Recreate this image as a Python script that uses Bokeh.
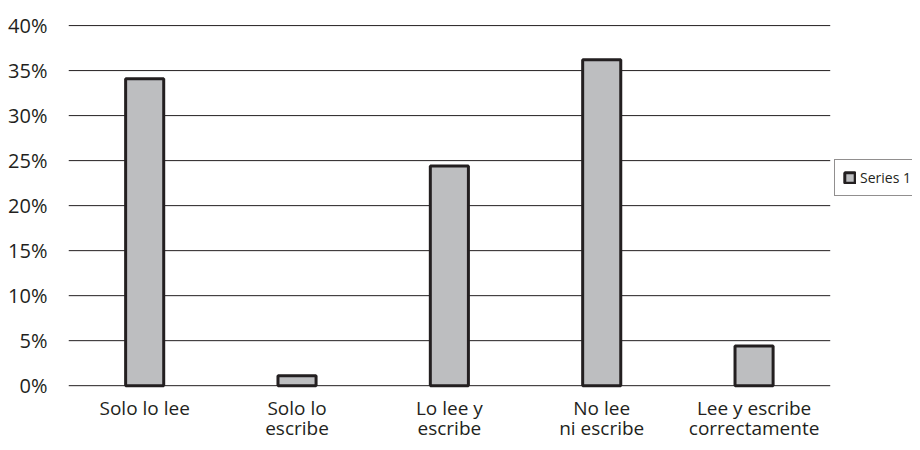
import numpy as np
from bokeh.plotting import figure
from bokeh.models import ColumnDataSource, FixedTicker, Legend, LegendItem, Range1d
from bokeh.core.properties import value
from bokeh.embed import file_html
from bokeh.resources import INLINE

categories = ["Solo lo lee", "Solo lo escribe", "Lo lee y escribe", "No lee ni escribe", "Lee y escribe correctamente"]
tick_labels = ["Solo lo lee", "Solo lo\nescribe", "Lo lee y\nescribe", "No lee\nni escribe", "Lee y escribe\ncorrectamente"]
values = [34.1, 1.1, 24.4, 36.2, 4.4]
y_ticks = [0, 5, 10, 15, 20, 25, 30, 35, 40]
series_name = "Series 1"

FONT = "Open Sans"
INK = "#231F20"

pos = np.arange(len(categories))
src = ColumnDataSource(dict(x=pos, cat=categories, val=values))
lab = ColumnDataSource(dict(x=pos, txt=tick_labels, y=[-1.0] * len(categories)))
grid = ColumnDataSource(dict(y=y_ticks, x0=[pos[0] - 0.5] * len(y_ticks),
                             x1=[pos[-1] + 0.5] * len(y_ticks)))

p = figure(x_range=Range1d(-0.5, 5.04), y_range=Range1d(-6.2, 40.12),
           width=912, height=442,
           output_backend="svg", toolbar_location=None,
           min_border_left=68, min_border_top=24, min_border_bottom=1,
           min_border_right=0)
p.outline_line_color = None
p.background_fill_color = "white"

# horizontal gridlines spanning the category area only
p.segment(x0="x0", x1="x1", y0="y", y1="y", source=grid,
          line_color=INK, line_width=1)

r = p.vbar(x="x", top="val", width=0.25, source=src,
           fill_color="#BDBEC0", line_color=INK, line_width=3)

p.text(x="x", y="y", text="txt", source=lab, text_align="center",
       text_baseline="top", text_font=value(FONT), text_font_size="19px",
       text_color=INK, text_line_height=0.79)

p.xgrid.grid_line_color = None
p.ygrid.grid_line_color = None
p.xaxis.visible = False

p.yaxis.ticker = FixedTicker(ticks=y_ticks)
p.yaxis.major_label_overrides = {t: f"{t}%" for t in y_ticks}
p.yaxis.axis_line_color = None
p.yaxis.major_tick_line_color = None
p.yaxis.minor_tick_line_color = None
p.yaxis.major_tick_out = 0
p.yaxis.major_tick_in = 0
p.yaxis.major_label_text_font = FONT
p.yaxis.major_label_text_font_size = "20px"
p.yaxis.major_label_text_color = INK
p.yaxis.major_label_standoff = 21

legend = Legend(items=[LegendItem(label=series_name, renderers=[r])],
                location=(766, 245), orientation="vertical",
                label_text_font=FONT, label_text_font_size="14px",
                label_text_color=INK, border_line_color=INK, border_line_width=1.5,
                glyph_width=13, glyph_height=13, padding=8, spacing=0,
                label_standoff=4, margin=0, background_fill_alpha=1)
p.add_layout(legend, "center")

open("out.html", "w").write(file_html(p, INLINE))
